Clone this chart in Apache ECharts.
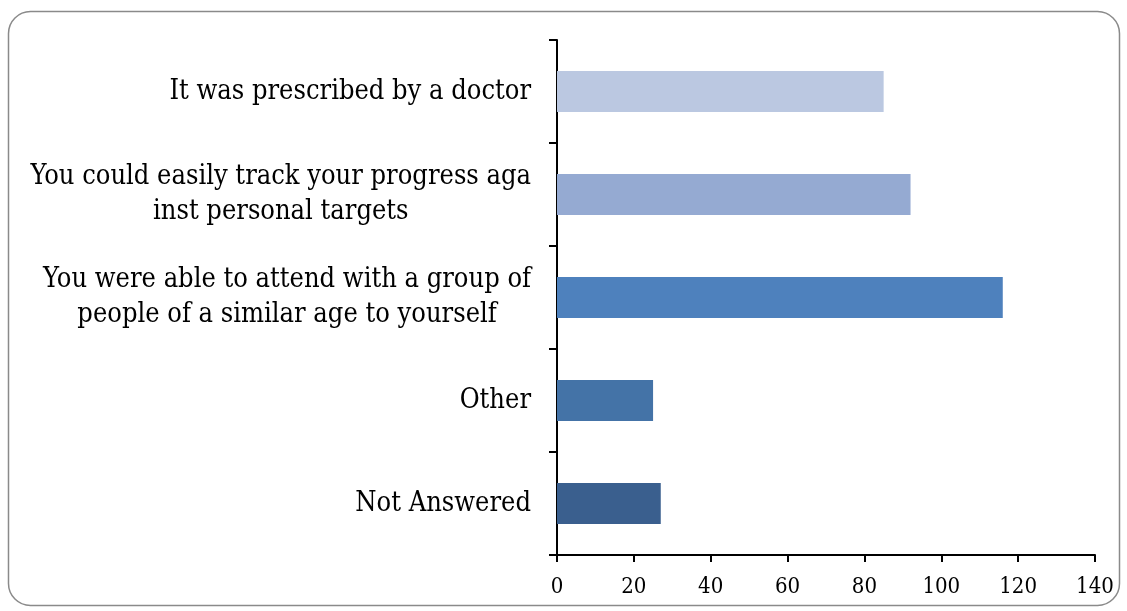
<!DOCTYPE html>
<html>
<head>
<meta charset="utf-8">
<script src="https://cdn.jsdelivr.net/npm/echarts@6/dist/echarts.min.js"></script>
<style>
  html, body { margin: 0; padding: 0; background: #fff; }
  #chart { width: 1127px; height: 611px; }
</style>
</head>
<body>
<div id="chart"></div>
<script>
// categories listed bottom to top (category axis starts at the bottom)
const categories = [
  'Not Answered',
  'Other',
  'You were able to attend with a group of\npeople of a similar age to yourself',
  'You could easily track your progress aga\ninst personal targets',
  'It was prescribed by a doctor'
]
const values = [27, 25, 116, 92, 85]
const barColors = ['#3A5F8E', '#4473A7', '#4E81BD', '#95AAD2', '#BBC8E1']
const xTicks = { min: 0, max: 140, interval: 20 }

const font = '"DejaVu Serif Condensed", "DejaVu Serif", serif'
const chart = echarts.init(document.getElementById('chart'))

const option = {
  animation: false,
  backgroundColor: '#fff',
  graphic: [{
    type: 'rect',
    shape: { x: 8.5, y: 11.5, width: 1111, height: 594, r: 22 },
    style: { fill: 'none', stroke: '#8a8a8a', lineWidth: 1.5 },
    z: -1
  }],
  grid: { left: 557, right: 32, top: 40, bottom: 56 },
  xAxis: {
    type: 'value',
    min: xTicks.min,
    max: xTicks.max,
    interval: xTicks.interval,
    axisLine: { show: true, lineStyle: { color: '#000', width: 2 } },
    axisTick: { show: true, length: 7, lineStyle: { color: '#000', width: 2 } },
    axisLabel: { color: '#000', fontFamily: font, fontSize: 22, margin: 21 },
    splitLine: { show: false }
  },
  yAxis: {
    type: 'category',
    data: categories,
    axisLine: { lineStyle: { color: '#000', width: 2 } },
    axisTick: { show: true, length: 8, lineStyle: { color: '#000', width: 2 } },
    axisLabel: {
      margin: 26,
      align: 'right',
      // each line centred inside the right-aligned block
      formatter: (v) => v.split('\n').map((s) => '{c|' + s + '}').join('\n'),
      rich: {
        c: { color: '#000', fontFamily: font, fontSize: 27, lineHeight: 35, align: 'center' }
      }
    }
  },
  series: [{
    type: 'bar',
    data: values.map((v, i) => ({ value: v, itemStyle: { color: barColors[i] } })),
    barCategoryGap: '60%'
  }]
}

chart.setOption(option)
</script>
</body>
</html>
